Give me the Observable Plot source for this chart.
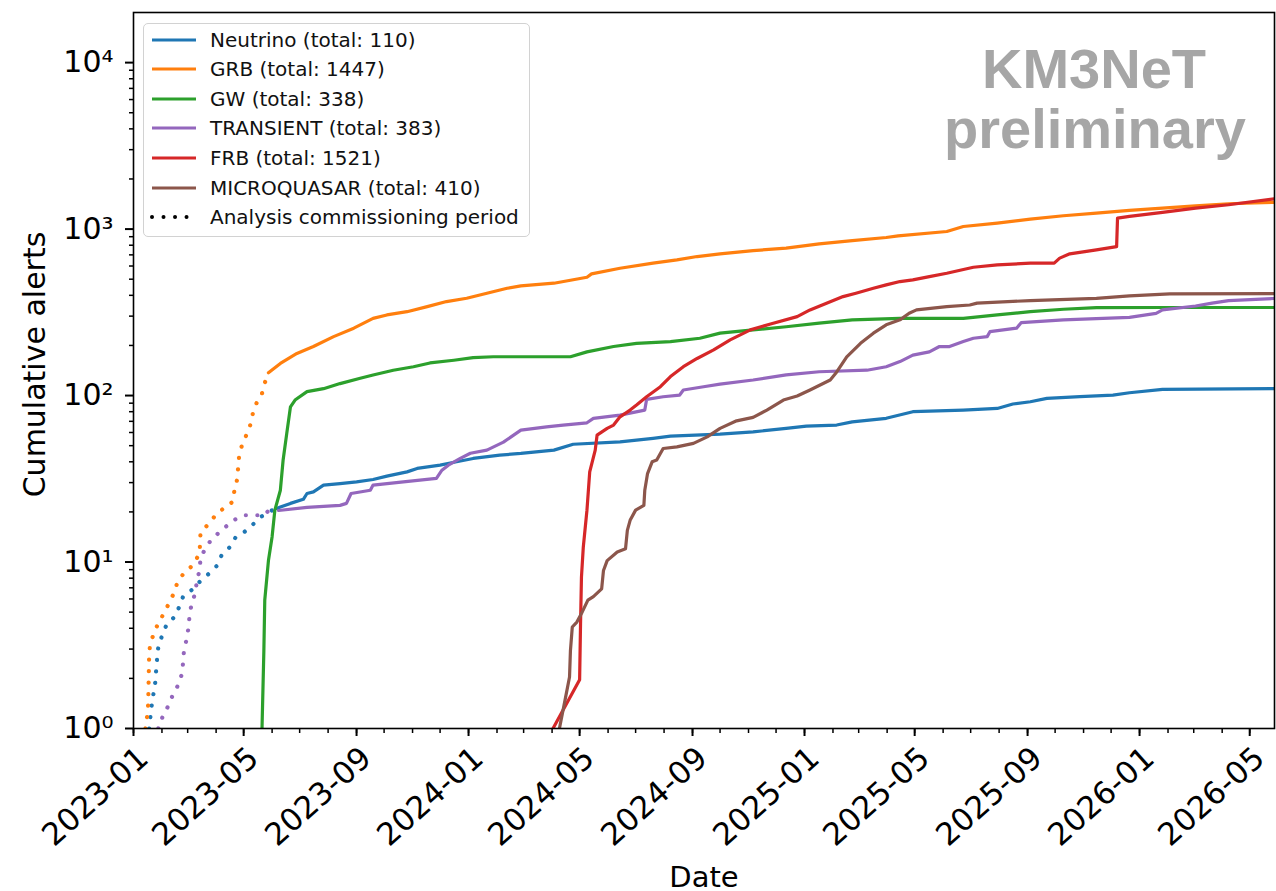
<!DOCTYPE html>
<html>
<head>
<meta charset="utf-8">
<script src="https://cdn.jsdelivr.net/npm/d3@7"></script>
<script src="https://cdn.jsdelivr.net/npm/@observablehq/plot@0.6"></script>
<style>
  body { margin: 0; background: #fff; }
  #wrap { position: relative; width: 1276px; height: 891px; font-family: "DejaVu Sans", sans-serif; }
  #legend { position: absolute; left: 143px; top: 23px; width: 387px; height: 214px; box-sizing: border-box;
            border: 1.5px solid #d2d2d2; border-radius: 5px; background: rgba(255,255,255,0.85); }
  .row { position: absolute; left: 0; height: 24px; display: flex; align-items: center; font-size: 20px; color: #111; white-space: nowrap; }
  .row svg { margin-left: 6px; margin-right: 14px; }
  #brand { position: absolute; left: 944px; top: 39px; width: 300px; text-align: center; font-family: "Liberation Sans", Arial, sans-serif;
           font-weight: bold; font-size: 56px; line-height: 60px; color: #a6a6a6; }
</style>
</head>
<body>
<div id="wrap">
  <div id="chart"></div>
  <div id="legend"></div>
  <div id="brand">KM3NeT<br>preliminary</div>
</div>
<script>
// ---------------- data ----------------
const seriesNames  = ["Neutrino", "GRB", "GW", "TRANSIENT", "FRB", "MICROQUASAR"];
const seriesTotals = [110, 1447, 338, 383, 1521, 410];
const seriesColors = ["#1f77b4", "#ff7f0e", "#2ca02c", "#9467bd", "#d62728", "#8c564b"];
// end of the analysis commissioning period for each series (dotted before, solid after); null = none
const commissioningEnd = ["2023-06-06", "2023-05-28", null, "2023-06-08", null, null];

const neutrino = [
  ["2023-01-18",1],["2023-01-21",1.4],["2023-01-23",1.65],["2023-01-25",1.94],["2023-01-26",2.4],["2023-01-28",3.08],
  ["2023-02-01",3.6],["2023-02-06",4.2],["2023-02-15",4.7],["2023-02-20",5.4],["2023-02-24",6.2],["2023-03-07",6.9],
  ["2023-03-14",7.6],["2023-03-24",8.5],["2023-04-02",9.5],["2023-04-07",11],["2023-04-16",12.3],["2023-04-22",14],
  ["2023-05-02",15.2],["2023-05-12",17],["2023-05-20",18.7],["2023-05-28",20],["2023-06-06",21],
  ["2023-06-10",21.4],["2023-06-21",22.5],["2023-07-05",23.8],["2023-07-09",25.8],["2023-07-16",26.4],["2023-07-27",29],
  ["2023-08-14",29.6],["2023-09-01",30.3],["2023-09-19",31.3],["2023-10-04",32.8],["2023-10-26",34.8],["2023-11-06",36.5],
  ["2023-12-01",38.2],["2023-12-19",40],["2024-01-06",41.9],["2024-02-04",43.9],["2024-02-27",44.9],["2024-04-03",47],
  ["2024-04-24",51],["2024-06-14",52.7],["2024-07-20",55.3],["2024-08-08",57],["2024-10-01",58.7],["2024-11-06",60.5],
  ["2024-12-12",63.5],["2025-01-03",65.6],["2025-02-05",66.5],["2025-02-22",69.5],["2025-03-31",73],["2025-04-29",80],
  ["2025-06-23",81.8],["2025-07-30",83.7],["2025-08-16",89],["2025-09-04",91.8],["2025-09-22",96.2],["2025-10-28",98.4],
  ["2025-12-03",100.7],["2025-12-21",104],["2026-01-26",109],["2026-05-28",110]
];
const grb = [
  ["2023-01-14",1],["2023-01-16",1.2],["2023-01-17",1.4],["2023-01-18",2.7],["2023-01-19",3.2],["2023-01-23",3.7],
  ["2023-01-28",4.3],["2023-02-03",4.9],["2023-02-09",5.7],["2023-02-14",6.5],["2023-02-18",7.6],["2023-02-25",8.6],
  ["2023-03-07",9.6],["2023-03-14",11.3],["2023-03-15",15],["2023-03-24",17],["2023-03-31",19],["2023-04-09",21],
  ["2023-04-19",23],["2023-04-21",27],["2023-04-24",31.5],["2023-04-25",37],["2023-04-26",43],["2023-04-29",50],
  ["2023-05-04",58],["2023-05-08",66],["2023-05-11",78],["2023-05-15",90],["2023-05-21",103],["2023-05-24",119],
  ["2023-05-28",137],["2023-06-10",156],["2023-06-28",179],["2023-07-16",197],["2023-08-07",226],["2023-08-29",254],
  ["2023-09-19",291],["2023-10-04",305],["2023-10-26",319],["2023-11-17",342],["2023-12-08",367],["2023-12-30",384],
  ["2024-01-21",412],["2024-02-12",441],["2024-02-27",456],["2024-04-03",473],["2024-05-09",514],["2024-05-14",538],
  ["2024-06-14",582],["2024-07-20",624],["2024-08-15",653],["2024-09-06",684],["2024-10-01",710],["2024-11-06",743],
  ["2024-12-12",768],["2025-01-17",815],["2025-02-22",853],["2025-03-31",890],["2025-04-13",910],["2025-06-05",967],
  ["2025-06-23",1036],["2025-07-30",1086],["2025-09-04",1148],["2025-10-10",1202],["2025-11-15",1247],["2025-12-21",1294],
  ["2026-01-26",1337],["2026-03-03",1380],["2026-04-08",1420],["2026-05-28",1447]
];
const gw = [
  ["2023-05-21",1],["2023-05-23",2.9],["2023-05-24",5.9],["2023-05-28",10.2],["2023-06-01",14.2],["2023-06-04",20.5],
  ["2023-06-10",27],["2023-06-13",41],["2023-06-17",59.5],["2023-06-21",85.6],["2023-06-26",94],["2023-07-09",105.5],
  ["2023-07-27",110],["2023-08-14",118],["2023-09-05",127],["2023-09-19",133],["2023-10-11",142],["2023-11-02",149],
  ["2023-11-20",157],["2023-12-16",163],["2024-01-06",169],["2024-01-28",171],["2024-04-21",171],["2024-05-09",183],
  ["2024-06-07",197],["2024-07-02",206],["2024-08-08",211],["2024-09-09",221],["2024-10-01",237],["2024-11-06",248],
  ["2024-12-12",259],["2025-01-17",272],["2025-02-22",285],["2025-04-15",291],["2025-06-23",291],["2025-07-30",305],
  ["2025-09-04",319],["2025-10-10",330],["2025-11-15",337],["2026-01-26",338],["2026-05-28",338]
];
const transient = [
  ["2023-01-28",1],["2023-02-02",1.19],["2023-02-08",1.37],["2023-02-13",1.6],["2023-02-19",1.84],["2023-02-23",2.15],
  ["2023-02-24",2.5],["2023-02-25",2.95],["2023-02-28",3.46],["2023-03-02",4.07],["2023-03-03",4.74],["2023-03-05",5.5],
  ["2023-03-09",6.46],["2023-03-11",7.6],["2023-03-14",9],["2023-03-15",10.5],["2023-03-20",12],["2023-03-27",13.7],
  ["2023-04-07",15.5],["2023-04-19",17.7],["2023-05-01",19.1],["2023-05-23",19.1],["2023-05-28",20.3],["2023-06-08",20.4],
  ["2023-07-09",21.3],["2023-08-14",21.9],["2023-08-21",22.5],["2023-08-26",25.8],["2023-09-16",27],["2023-09-19",29],
  ["2023-10-22",30.3],["2023-11-27",31.8],["2023-12-03",35.6],["2023-12-10",38.2],["2023-12-23",41.9],["2024-01-03",45],
  ["2024-01-21",47],["2024-02-08",52.5],["2024-02-27",62],["2024-03-26",64.9],["2024-04-13",66.5],["2024-05-09",68.6],
  ["2024-05-16",72.9],["2024-06-14",76.3],["2024-07-11",81.8],["2024-07-13",94.9],["2024-07-31",98.4],["2024-08-18",100.7],
  ["2024-08-22",108],["2024-09-13",113],["2024-10-01",117],["2024-11-06",124],["2024-12-12",133],["2025-01-17",139],
  ["2025-03-10",142],["2025-03-31",149],["2025-04-15",160],["2025-04-29",175],["2025-05-17",183],["2025-05-28",197],
  ["2025-06-08",197],["2025-06-23",211],["2025-07-04",221],["2025-07-19",226],["2025-07-22",242],["2025-08-20",254],
  ["2025-08-25",274],["2025-10-10",285],["2025-12-21",295],["2026-01-19",312],["2026-01-26",327],["2026-03-03",345],
  ["2026-03-21",359],["2026-04-08",372],["2026-05-28",383]
];
const frb = [
  ["2024-04-02",1],["2024-05-01",1.96],["2024-05-02",4.26],["2024-05-03",8.1],["2024-05-05",12.3],["2024-05-09",20.5],
  ["2024-05-12",34.8],["2024-05-18",47],["2024-05-20",57.8],["2024-05-31",63.5],["2024-06-07",66.5],["2024-06-14",74.5],
  ["2024-06-25",81.8],["2024-07-02",87.7],["2024-07-13",98.4],["2024-07-28",113],["2024-08-08",130],["2024-08-22",149],
  ["2024-09-06",167],["2024-09-24",188],["2024-10-12",216],["2024-11-03",248],["2024-11-25",269],["2024-12-24",298],
  ["2025-01-07",327],["2025-01-25",359],["2025-02-12",393],["2025-02-26",412],["2025-03-17",441],["2025-03-31",462],
  ["2025-04-15",484],["2025-04-29",495],["2025-05-17",518],["2025-06-05",543],["2025-07-04",590],["2025-07-30",609],
  ["2025-09-04",624],["2025-09-30",624],["2025-10-06",669],["2025-10-17",710],["2025-11-15",750],["2025-12-07",785],
  ["2025-12-08",1164],["2025-12-21",1191],["2026-01-26",1259],["2026-03-03",1337],["2026-04-08",1400],["2026-05-28",1521]
];
const microquasar = [
  ["2024-04-09",1],["2024-04-15",1.47],["2024-04-20",2.04],["2024-04-21",2.94],["2024-04-23",4.07],["2024-04-28",4.36],
  ["2024-05-03",4.9],["2024-05-10",5.9],["2024-05-16",6.2],["2024-05-25",6.9],["2024-05-27",8.9],["2024-05-31",10.2],
  ["2024-06-11",11.5],["2024-06-20",12],["2024-06-22",15.5],["2024-06-25",17.8],["2024-07-01",20.5],["2024-07-10",21.9],
  ["2024-07-11",27],["2024-07-14",34],["2024-07-19",40],["2024-07-24",41],["2024-07-31",48.1],["2024-08-15",49.2],
  ["2024-09-02",51.6],["2024-09-17",56.5],["2024-10-01",63.5],["2024-10-19",70.5],["2024-11-06",73.9],["2024-11-21",81.8],
  ["2024-12-09",94],["2024-12-24",99.3],["2025-01-07",108],["2025-01-29",124],["2025-02-04",136],["2025-02-16",171],
  ["2025-03-03",206],["2025-03-17",237],["2025-03-31",266],["2025-04-15",285],["2025-04-25",312],["2025-05-03",327],
  ["2025-06-05",342],["2025-06-30",350],["2025-07-08",359],["2025-09-04",372],["2025-11-15",384],["2025-12-21",397],
  ["2026-02-03",408],["2026-05-28",410]
];
const seriesData = [neutrino, grb, gw, transient, frb, microquasar];

const xDomain = ["2023-01-01", "2026-05-28"];
const yDomain = [1, 20000];
const yMajorTicks = [1, 10, 100, 1000, 10000];
const legendDotLabel = "Analysis commissioning period";

// ---------------- build ----------------
const parse = s => new Date(s + "T00:00:00Z");
const x0 = parse(xDomain[0]), x1 = parse(xDomain[1]);
const xMajor = d3.utcMonth.every(4).range(x0, d3.utcDay.offset(x1, 1));
const xMinor = d3.utcMonth.range(x0, d3.utcDay.offset(x1, 1));
const yMinor = [];
for (const p of [1, 10, 100, 1000]) for (let k = 2; k <= 9; k++) yMinor.push(k * p);
const sup = {"0":"⁰","1":"¹","2":"²","3":"³","4":"⁴","5":"⁵"};

const DOTS = "0.01,11.5";
const lineMarks = [];
seriesData.forEach((arr, i) => {
  const pts = arr.map(([d, v]) => ({date: parse(d), value: v}));
  const end = commissioningEnd[i] ? parse(commissioningEnd[i]) : null;
  const dotted = end ? pts.filter(p => p.date <= end) : [];
  const solid = end ? pts.filter(p => p.date >= end) : pts;
  if (dotted.length) lineMarks.push(Plot.line(dotted, {x: "date", y: "value", stroke: seriesColors[i], strokeWidth: 4.2,
    strokeDasharray: DOTS, strokeLinecap: "round", clip: true}));
  lineMarks.push(Plot.line(solid, {x: "date", y: "value", stroke: seriesColors[i], strokeWidth: 3.2,
    strokeLinejoin: "round", clip: true}));
});

const chart = Plot.plot({
  width: 1276, height: 891,
  marginLeft: 133, marginRight: 2, marginTop: 12, marginBottom: 163,
  x: {type: "utc", domain: [x0, x1]},
  y: {type: "log", domain: yDomain},
  style: {fontFamily: "DejaVu Sans", fontSize: "24px", color: "black", background: "white", overflow: "visible"},
  marks: [
    ...lineMarks,
    Plot.frame({stroke: "black", strokeWidth: 1.6}),
    Plot.axisX(xMinor, {tickSize: 5, strokeWidth: 1.5, tickFormat: () => "", label: null}),
    Plot.axisX(xMajor, {tickSize: 8, strokeWidth: 2, tickFormat: () => "", label: null}),
    Plot.axisX(xMajor, {tickSize: 0, tickFormat: d3.utcFormat("%Y-%m"), tickRotate: -42,
      tickPadding: 25, dx: 10, fontSize: 31, label: null}),
    Plot.axisY(yMinor, {tickSize: 4, strokeWidth: 1.5, tickFormat: () => "", label: null}),
    Plot.axisY(yMajorTicks, {tickSize: 8, strokeWidth: 2, fontSize: 30, tickPadding: 12, label: null,
      tickFormat: d => "10" + sup[String(Math.round(Math.log10(d)))]}),
    Plot.text(["Date"], {text: d => d, frameAnchor: "bottom", dy: 158, lineAnchor: "bottom", fontSize: 29}),
    Plot.text(["Cumulative alerts"], {text: d => d, frameAnchor: "left", dx: -98, dy: -6, rotate: -90, lineAnchor: "middle",
      textAnchor: "middle", fontSize: 30})
  ]
});
document.getElementById("chart").appendChild(chart);

// ---------------- legend ----------------
const legend = d3.select("#legend");
const rows = seriesNames.map((n, i) => ({label: `${n} (total: ${seriesTotals[i]})`, color: seriesColors[i], dotted: false}));
rows.push({label: legendDotLabel, color: "black", dotted: true});
rows.forEach((r, i) => {
  const row = legend.append("div").attr("class", "row").style("top", (3.5 + i * 29.6) + "px");
  const s = row.append("svg").attr("width", 46).attr("height", 10);
  s.append("line").attr("x1", 2).attr("x2", 46).attr("y1", 5).attr("y2", 5)
    .attr("stroke", r.color).attr("stroke-width", r.dotted ? 4 : 3)
    .attr("stroke-linecap", r.dotted ? "round" : "butt")
    .attr("stroke-dasharray", r.dotted ? DOTS : null);
  row.append("span").text(r.label);
});
</script>
</body>
</html>
